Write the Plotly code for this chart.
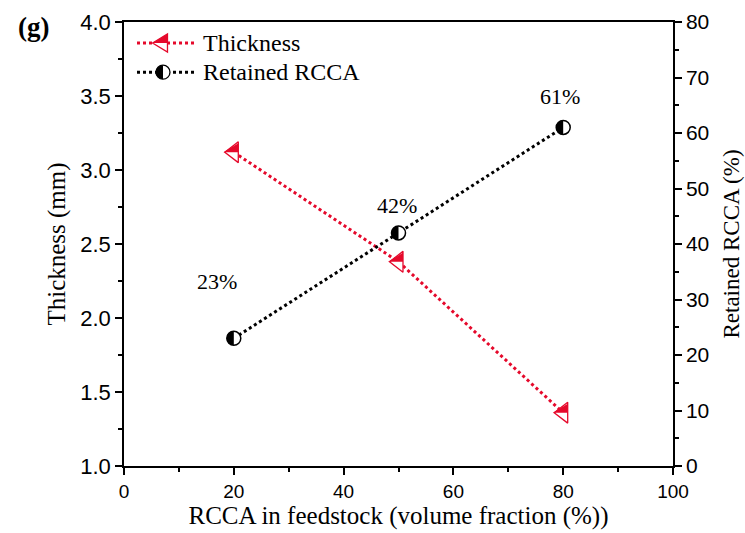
import plotly.graph_objects as go

# RCCA share in the feedstock (volume fraction, %)
rcca_feed = [20, 50, 80]
# Coating thickness (mm)
thickness = [3.12, 2.38, 1.36]
# Retained RCCA (%)
retained = [23, 42, 61]
retained_labels = [f"{v}%" for v in retained]

RED = "#e5092b"
BLACK = "#000000"
SERIF = "Liberation Serif"
SANS = "Liberation Sans"

# half-marker geometry (pixels, y up)
TRI = 18
tri_r = TRI / 2
tri_rt = tri_r * 2 / 3 ** 0.5
tri_r2 = tri_r / 2
CIR = 14
cr = CIR / 2
k = 0.5523 * cr

tri_top_half = f"M{-tri_rt:.2f},0 L{tri_r2:.2f},{tri_r:.2f} L{tri_r2:.2f},0 Z"
cir_left_half = (f"M0,{cr} C{-k:.2f},{cr} {-cr},{k:.2f} {-cr},0 "
                 f"C{-cr},{-k:.2f} {-k:.2f},{-cr} 0,{-cr} Z")
tri_full = f"M{-tri_rt:.2f},0 L{tri_r2:.2f},{tri_r:.2f} L{tri_r2:.2f},{-tri_r:.2f} Z"
cir_full = (f"M0,{cr} C{-k:.2f},{cr} {-cr},{k:.2f} {-cr},0 "
            f"C{-cr},{-k:.2f} {-k:.2f},{-cr} 0,{-cr} "
            f"C{k:.2f},{-cr} {cr},{-k:.2f} {cr},0 "
            f"C{cr},{k:.2f} {k:.2f},{cr} 0,{cr} Z")

fig = go.Figure()

fig.add_trace(go.Scatter(
    x=rcca_feed, y=thickness, name="Thickness", mode="lines+markers",
    line=dict(color=RED, width=3, dash="dot"),
    marker=dict(symbol="triangle-left", size=TRI, color="white",
                line=dict(color=RED, width=1.3)),
    showlegend=False,
))
fig.add_trace(go.Scatter(
    x=rcca_feed, y=retained, name="Retained RCCA", mode="lines+markers",
    yaxis="y2",
    line=dict(color=BLACK, width=3, dash="dot"),
    marker=dict(symbol="circle", size=CIR, color="white",
                line=dict(color=BLACK, width=1.5)),
    showlegend=False,
))

shapes = []
# filled halves of the data markers
for xv, yv in zip(rcca_feed, thickness):
    shapes.append(dict(type="path", xref="x", yref="y", xsizemode="pixel",
                       ysizemode="pixel", xanchor=xv, yanchor=yv,
                       path=tri_top_half, fillcolor=RED, line=dict(width=0)))
for xv, yv in zip(rcca_feed, retained):
    shapes.append(dict(type="path", xref="x", yref="y2", xsizemode="pixel",
                       ysizemode="pixel", xanchor=xv, yanchor=yv,
                       path=cir_left_half, fillcolor=BLACK, line=dict(width=0)))

# legend drawn in paper space
leg_x0, leg_x1, leg_xm = 0.0237, 0.129, 0.071
leg_rows = [(0.9527, RED, tri_full, tri_top_half, "Thickness"),
            (0.887, BLACK, cir_full, cir_left_half, "Retained RCCA")]
annotations = []
for ly, col, full, half, label in leg_rows:
    shapes.append(dict(type="line", xref="paper", yref="paper",
                       x0=leg_x0, x1=leg_x1, y0=ly, y1=ly,
                       line=dict(color=col, width=3, dash="dot")))
    shapes.append(dict(type="path", xref="paper", yref="paper", xsizemode="pixel",
                       ysizemode="pixel", xanchor=leg_xm, yanchor=ly,
                       path=full, fillcolor="white", line=dict(color=col, width=1.3)))
    shapes.append(dict(type="path", xref="paper", yref="paper", xsizemode="pixel",
                       ysizemode="pixel", xanchor=leg_xm, yanchor=ly,
                       path=half, fillcolor=col, line=dict(width=0)))
    annotations.append(dict(xref="paper", yref="paper", x=0.14, y=ly,
                            xanchor="left", yanchor="middle", text=label,
                            showarrow=False, font=dict(family=SERIF, size=24, color=BLACK)))

# percentage labels on retained RCCA points
label_shift = [(-17, 57), (-2, 27), (-3, 31)]
for xv, yv, txt, (dx, dy) in zip(rcca_feed, retained, retained_labels, label_shift):
    annotations.append(dict(xref="x", yref="y2", x=xv, y=yv, text=txt,
                            showarrow=False, xshift=dx, yshift=dy,
                            font=dict(family=SERIF, size=22, color=BLACK)))

annotations.append(dict(xref="paper", yref="paper", x=-0.165, y=1.0,
                        xanchor="center", yanchor="middle", text="<b>(g)</b>",
                        yshift=-5,
                        showarrow=False, font=dict(family=SERIF, size=27, color=BLACK)))

def axis_style(tick_size):
    return dict(showline=True, linecolor=BLACK, linewidth=1.5,
                ticks="outside", ticklen=7, tickwidth=1.5, tickcolor=BLACK,
                showgrid=False, zeroline=False, automargin=False,
                tickfont=dict(family=SANS, size=tick_size, color=BLACK))

fig.update_layout(
    width=745, height=533,
    margin=dict(l=124, r=72, t=22, b=67),
    paper_bgcolor="white", plot_bgcolor="white",
    xaxis=dict(range=[0, 100], tickvals=[0, 20, 40, 60, 80, 100],
               mirror=True,
               minor=dict(dtick=10, ticks="outside", ticklen=4, tickwidth=1.5, tickcolor=BLACK),
               title=dict(text="RCCA in feedstock (volume fraction (%))",
                          font=dict(family=SERIF, size=25, color=BLACK), standoff=4),
               **axis_style(19)),
    yaxis=dict(range=[1.0, 4.0], tickvals=[1.0, 1.5, 2.0, 2.5, 3.0, 3.5, 4.0],
               tickformat=".1f",
               minor=dict(dtick=0.25, ticks="outside", ticklen=4, tickwidth=1.5, tickcolor=BLACK),
               title=dict(text="Thickness (mm)",
                          font=dict(family=SERIF, size=25, color=BLACK), standoff=8),
               **axis_style(22)),
    yaxis2=dict(range=[0, 80], tickvals=list(range(0, 90, 10)),
                overlaying="y", side="right",
                minor=dict(dtick=5, ticks="outside", ticklen=4, tickwidth=1.5, tickcolor=BLACK),
                title=dict(text="Retained RCCA (%)",
                           font=dict(family=SERIF, size=23, color=BLACK), standoff=15),
                **axis_style(21)),
    shapes=shapes,
    annotations=annotations,
)

fig.write_html("out.html")
